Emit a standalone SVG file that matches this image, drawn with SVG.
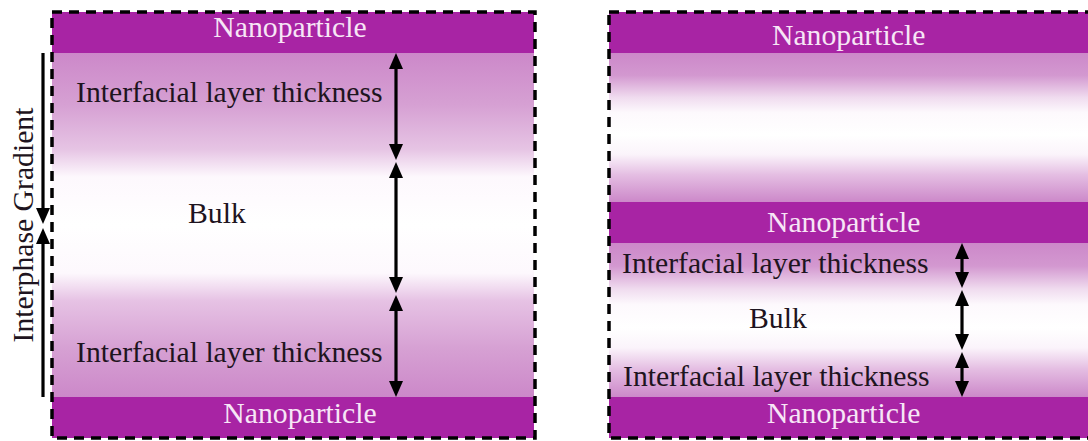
<svg xmlns="http://www.w3.org/2000/svg" width="1088" height="441" viewBox="0 0 1088 441">
<style>
.band{fill:#A824A4}
.np{font-family:"Liberation Serif","Times New Roman",serif;font-size:29.7px;fill:#F7E6F6}
.lbl{font-family:"Liberation Serif","Times New Roman",serif;font-size:29.7px;fill:#1E1420}
.border{fill:none;stroke:#000;stroke-width:3.5;stroke-dasharray:10 7}
.arr{stroke:#000;stroke-width:3.2;fill:none;marker-start:url(#ah);marker-end:url(#ah)}
.arr1{stroke:#000;stroke-width:3.2;fill:none;marker-end:url(#ah)}
</style>
<defs>
<marker id="ah" markerUnits="userSpaceOnUse" markerWidth="16" markerHeight="14" refX="4" refY="7" orient="auto-start-reverse">
<path d="M0,0 L16,7 L0,14 z" fill="#000"/>
</marker>
<linearGradient id="gL" x1="0" y1="0" x2="0" y2="1">
<stop offset="0" stop-color="#CC88C9"/>
<stop offset="0.15" stop-color="#D6A0D3"/>
<stop offset="0.28" stop-color="#E6C4E4"/>
<stop offset="0.36" stop-color="#FDF8FD"/>
<stop offset="0.5" stop-color="#FFFFFF"/>
<stop offset="0.64" stop-color="#FDF8FD"/>
<stop offset="0.72" stop-color="#E6C2E4"/>
<stop offset="0.86" stop-color="#D6A0D3"/>
<stop offset="1" stop-color="#CC88C9"/>
</linearGradient>
<linearGradient id="gR" x1="0" y1="0" x2="0" y2="1">
<stop offset="0" stop-color="#CC88C9"/>
<stop offset="0.15" stop-color="#D398D0"/>
<stop offset="0.3" stop-color="#F0DCEF"/>
<stop offset="0.4" stop-color="#FDF9FD"/>
<stop offset="0.55" stop-color="#FFFFFF"/>
<stop offset="0.68" stop-color="#FBF4FB"/>
<stop offset="0.82" stop-color="#E4BDE2"/>
<stop offset="1" stop-color="#CC88C9"/>
</linearGradient>
</defs>

<g id="left-panel">
<rect x="52" y="53" width="482" height="344" fill="url(#gL)"/>
</g>
<g id="left-np-top">
<rect class="band" x="52" y="12" width="482" height="41"/>
<text class="np" x="290" y="37" text-anchor="middle">Nanoparticle</text>
</g>
<g id="left-np-bottom">
<rect class="band" x="52" y="397" width="482" height="41"/>
<text class="np" x="300" y="423" text-anchor="middle">Nanoparticle</text>
</g>
<g id="left-interfacial-top"><text class="lbl" x="76" y="102">Interfacial layer thickness</text></g>
<g id="left-bulk"><text class="lbl" x="188" y="223">Bulk</text></g>
<g id="left-interfacial-bottom"><text class="lbl" x="76" y="362">Interfacial layer thickness</text></g>
<g id="interphase-label"><text class="lbl" transform="translate(33,225) rotate(-90)" text-anchor="middle">Interphase Gradient</text></g>
<rect class="border" x="52" y="12" width="483" height="426"/>

<g id="right-panel">
<rect x="609" y="53" width="479" height="149" fill="url(#gR)"/>
<rect x="609" y="243" width="479" height="154" fill="url(#gR)"/>
</g>
<g id="right-np-top">
<rect class="band" x="609" y="12" width="479" height="41"/>
<text class="np" x="772" y="45">Nanoparticle</text>
</g>
<g id="right-np-middle">
<rect class="band" x="609" y="202" width="479" height="41"/>
<text class="np" x="767" y="232">Nanoparticle</text>
</g>
<g id="right-np-bottom">
<rect class="band" x="609" y="397" width="479" height="41"/>
<text class="np" x="767" y="423">Nanoparticle</text>
</g>
<g id="right-interfacial-top"><text class="lbl" x="622" y="273">Interfacial layer thickness</text></g>
<g id="right-bulk"><text class="lbl" x="749" y="328">Bulk</text></g>
<g id="right-interfacial-bottom"><text class="lbl" x="623" y="386">Interfacial layer thickness</text></g>
<rect class="border" x="609" y="12" width="490" height="426"/>

<g id="connectors">
<line class="arr" x1="396" y1="65" x2="396" y2="148"/>
<line class="arr" x1="396" y1="174" x2="396" y2="281"/>
<line class="arr" x1="396" y1="307" x2="396" y2="385"/>
<line class="arr" x1="962" y1="255" x2="962" y2="276"/>
<line class="arr" x1="962" y1="302" x2="962" y2="338"/>
<line class="arr" x1="962" y1="364" x2="962" y2="385"/>
<line class="arr1" x1="43" y1="53" x2="43" y2="212"/>
<line class="arr1" x1="43" y1="397" x2="43" y2="240"/>
</g>
</svg>
